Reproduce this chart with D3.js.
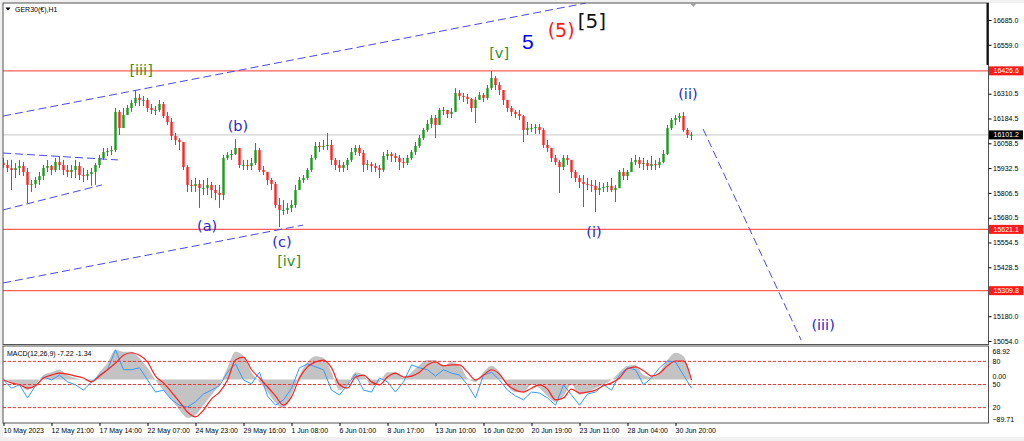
<!DOCTYPE html>
<html>
<head>
<meta charset="utf-8">
<script src="https://cdn.jsdelivr.net/npm/d3@7"></script>
<style>
  body { margin: 0; background: #f0f0f0; }
  svg { display: block; }
  text { font-family: "Liberation Sans", Arial, sans-serif; }
</style>
</head>
<body>
<svg id="chart"></svg>
<script>
// ---- price data (H1 candles, resampled) ----
const firstOpen = 15960;
const closes = [
  15948, 15933, 15923, 15933, 15943, 15913, 15847, 15852, 15872, 15892,
  15933, 15943, 15923, 15963, 15948, 15923, 15913, 15923, 15943, 15897,
  15892, 15902, 15913, 15948, 15984, 16014, 16019, 16024, 16218, 16136,
  16202, 16238, 16263, 16289, 16279, 16279, 16238, 16228, 16228, 16258,
  16197, 16167, 16096, 16075, 16065, 15938, 15847, 15842, 15852, 15831,
  15831, 15847, 15821, 15806, 15796, 15984, 15999, 16004, 16035, 15948,
  15948, 15943, 15958, 16024, 15923, 15913, 15872, 15852, 15745, 15720,
  15720, 15730, 15745, 15821, 15872, 15882, 15923, 15984, 16045, 16040,
  16045, 16050, 15974, 15948, 15933, 15948, 15974, 16014, 16035, 16009,
  15948, 15953, 15943, 15933, 15923, 15994, 16004, 15994, 15984, 15963,
  15958, 15984, 16014, 16045, 16085, 16126, 16157, 16187, 16152, 16228,
  16228, 16207, 16218, 16314, 16299, 16294, 16284, 16238, 16279, 16304,
  16289, 16339, 16390, 16355, 16329, 16279, 16238, 16218, 16207, 16197,
  16126, 16136, 16136, 16141, 16126, 16050, 16035, 15984, 15963, 15938,
  15984, 15974, 15913, 15882, 15862, 15852, 15847, 15842, 15821, 15831,
  15836, 15842, 15821, 15831, 15913, 15892, 15913, 15963, 15974, 15953,
  15958, 15943, 15953, 15948, 15963, 16004, 16136, 16177, 16187, 16197,
  16126, 16101, 16101
];
const highs = [
  15984, 15974, 15974, 15958, 15974, 15963, 15933, 15872, 15887, 15913,
  15948, 15974, 15948, 15984, 15994, 15974, 15948, 15948, 15974, 15963,
  15933, 15923, 15933, 15958, 15999, 16035, 16035, 16045, 16238, 16228,
  16238, 16253, 16279, 16329, 16309, 16299, 16289, 16258, 16248, 16279,
  16268, 16218, 16187, 16111, 16085, 16065, 15948, 15872, 15882, 15872,
  15872, 15882, 15862, 15847, 15847, 15999, 16014, 16024, 16080, 16024,
  15974, 15974, 15984, 16060, 16035, 15943, 15913, 15882, 15862, 15781,
  15770, 15755, 15770, 15847, 15887, 15897, 15933, 15999, 16065, 16065,
  16075, 16111, 16075, 15984, 15974, 15963, 15984, 16035, 16050, 16050,
  16024, 15974, 15963, 15958, 15948, 16014, 16024, 16014, 16009, 15999,
  15984, 15999, 16024, 16065, 16101, 16136, 16177, 16202, 16202, 16238,
  16243, 16228, 16238, 16339, 16329, 16314, 16309, 16289, 16294, 16319,
  16314, 16355, 16426, 16400, 16370, 16319, 16279, 16248, 16228, 16228,
  16202, 16167, 16157, 16157, 16157, 16136, 16075, 16035, 15999, 15974,
  15999, 15999, 15974, 15923, 15897, 15897, 15882, 15872, 15872, 15862,
  15857, 15862, 15882, 15847, 15923, 15933, 15923, 15984, 15999, 15989,
  15984, 15974, 15994, 15974, 15984, 16024, 16152, 16187, 16202, 16212,
  16218, 16136, 16116
];
const lows = [
  15933, 15913, 15821, 15882, 15897, 15892, 15755, 15811, 15831, 15847,
  15872, 15913, 15897, 15913, 15923, 15897, 15887, 15882, 15882, 15872,
  15862, 15872, 15842, 15847, 15933, 15974, 15994, 15999, 16014, 16101,
  16152, 16202, 16218, 16248, 16248, 16248, 16218, 16207, 16202, 16218,
  16187, 16152, 16075, 16050, 16024, 15923, 15811, 15811, 15811, 15730,
  15796, 15796, 15781, 15770, 15730, 15770, 15974, 15974, 15999, 15933,
  15923, 15923, 15923, 15948, 15913, 15897, 15847, 15821, 15730, 15633,
  15694, 15699, 15709, 15730, 15821, 15857, 15872, 15913, 15974, 16014,
  16024, 16024, 15948, 15923, 15913, 15913, 15923, 15963, 15999, 15994,
  15913, 15923, 15913, 15913, 15882, 15913, 15974, 15963, 15963, 15923,
  15933, 15948, 15974, 15999, 16035, 16075, 16116, 16136, 16085, 16167,
  16202, 16187, 16187, 16218, 16279, 16268, 16258, 16218, 16162, 16279,
  16268, 16279, 16329, 16329, 16304, 16253, 16218, 16197, 16187, 16177,
  16065, 16101, 16116, 16106, 16106, 16035, 16014, 15963, 15948, 15806,
  15923, 15948, 15882, 15862, 15831, 15735, 15821, 15811, 15709, 15796,
  15811, 15811, 15811, 15760, 15847, 15872, 15872, 15923, 15948, 15933,
  15923, 15923, 15923, 15923, 15933, 15958, 15999, 16126, 16152, 16167,
  16116, 16085, 16075
];

// ---- MACD window (one value every 2 candles) ----
const macdMain = [
  3, -5, -11, -22, -11, 9, 15, 20, 9, 3,
  -1, -5, 15, 34, 61, 57, 57, 44, 24, -1,
  -22, -42, -63, -79, -73, -53, -32, -11, 24, 57,
  48, 15, -5, -26, -48, -59, -32, 9, 36, 48,
  44, 15, -22, -11, 15, 9, -13, -5, 15, 15,
  3, 15, 30, 40, 40, 28, 36, 30, 3, -5,
  15, 28, 15, -13, -26, -26, -11, -18, -34, -46,
  -34, -11, -32, -26, -18, -11, -1, 15, 28, 30,
  9, 5, 15, 40, 55, 48, -7.22
];
const macdSignal = [
  -1, -7, -11, -18, -13, 3, 9, 13, 11, 7,
  3, -5, 7, 20, 34, 50, 55, 50, 36, 7,
  -7, -26, -46, -67, -77, -63, -40, -26, -1, 40,
  46, 20, 3, -15, -34, -53, -36, 3, 26, 36,
  40, 24, -11, -18, 5, 9, -5, -11, 5, 13,
  5, 7, 15, 30, 36, 28, 30, 30, 15, -1,
  9, 20, 11, -11, -22, -26, -18, -11, -20, -42,
  -38, -20, -28, -26, -22, -13, -7, 3, 22, 26,
  18, 7, 13, 28, 38, 38, -1.34
];
const fastLine = [
  -1, -18, -11, -38, -13, 5, -1, 9, -5, -11,
  -22, -5, 9, 20, 61, 20, 20, 24, -1, -26,
  -22, -42, -53, -57, -46, -30, -22, -13, 15, 32,
  -1, -9, 15, -34, -53, -42, -18, 24, 32, 26,
  20, -22, -32, -11, 11, -22, -26, 3, -5, -26,
  -5, 30, 24, 20, 7, 20, 13, 9, -11, -38,
  9, 15, -1, -22, -34, -42, -26, -28, -38, -53,
  -11, -32, -53, -30, -26, -11, -22, 9, 24, 20,
  -11, 3, 24, 38, 36, 9, -18
];
const macdRange = [-89.71, 68.92];
const levelValues = [80, 50, 20];

// ---- axis labels ----
const priceTicks = [16685.0, 16559.0, 16310.5, 16184.5, 16058.5, 15932.5, 15806.5,
  15680.5, 15554.5, 15428.5, 15180.0, 15054.0];
const dateLabels = ["10 May 2023", "12 May 21:00", "17 May 14:00", "22 May 07:00",
  "24 May 23:00", "29 May 16:00", "1 Jun 08:00", "6 Jun 01:00", "8 Jun 17:00",
  "13 Jun 10:00", "16 Jun 02:00", "20 Jun 19:00", "23 Jun 11:00", "28 Jun 04:00",
  "30 Jun 20:00"];
const barsPerLabel = 12;

// ---- levels and drawings (candle index, price) ----
const resistance = [16426.6, 15621.1, 15309.8];
const lastPrice = 16101.2;
const trendLines = [
  [{ i: -0.1, p: 16197 }, { i: 145.6, p: 16771 }],
  [{ i: -0.1, p: 15349 }, { i: 74.9, p: 15643 }],
  [{ i: -0.1, p: 16009 }, { i: 28.6, p: 15974 }],
  [{ i: -0.1, p: 15720 }, { i: 24.6, p: 15847 }],
  [{ i: 174.9, p: 16131 }, { i: 199.4, p: 15059 }]
];
const waveLabels = [
  { t: "[iii]", i: 34.4, p: 16408, g: "green" },
  { t: "(b)", i: 58.6, p: 16123, g: "blue" },
  { t: "(a)", i: 50.9, p: 15615, g: "blue" },
  { t: "(c)", i: 69.6, p: 15534, g: "blue" },
  { t: "[iv]", i: 71.4, p: 15437, g: "green" },
  { t: "[v]", i: 123.9, p: 16494, g: "green" },
  { t: "5", i: 131.1, p: 16539, g: "five" },
  { t: "(5)", i: 139.4, p: 16599, g: "red" },
  { t: "[5]", i: 147.1, p: 16643, g: "black" },
  { t: "(i)", i: 147.6, p: 15584, g: "blue" },
  { t: "(ii)", i: 171.1, p: 16286, g: "blue" },
  { t: "(iii)", i: 204.9, p: 15112, g: "blue" }
];

// ---- layout ----
const W = 1024, H = 441;
const fr = { left: 3, right: 988.5, top: 3, mainBottom: 344.5, subTop: 346, subBottom: 423 };
const labelStyle = {
  green: { fill: "#2f8f2f", size: 14.5 },
  blue: { fill: "#2626d6", size: 14.5 },
  five: { fill: "#0000ff", size: 21 },
  red: { fill: "#ff1a1a", size: 19 },
  black: { fill: "#111", size: 20 }
};
const bull = "#1f9a1f", bear = "#ff2424";

const svg = d3.select("#chart").attr("width", W).attr("height", H);
svg.append("rect").attr("x", fr.left).attr("y", fr.top)
  .attr("width", W - fr.left).attr("height", 437 - fr.top).attr("fill", "#fff");

const x = d3.scaleLinear().domain([0, closes.length - 1]).range([3.5, 691.5]);
const y = d3.scaleLinear().domain([15054, 16685]).range([341, 20]);
const my = d3.scaleLinear().domain(macdRange).range([fr.subBottom, fr.subTop]);
const ly = d3.scaleLinear().domain([0, 100]).range([fr.subBottom, fr.subTop]);

const defs = svg.append("defs");
defs.append("clipPath").attr("id", "clipMain").append("rect")
  .attr("x", fr.left).attr("y", fr.top)
  .attr("width", fr.right - fr.left).attr("height", fr.mainBottom - fr.top);
defs.append("clipPath").attr("id", "clipSub").append("rect")
  .attr("x", fr.left).attr("y", fr.subTop)
  .attr("width", fr.right - fr.left).attr("height", fr.subBottom - fr.subTop);

// ---- main window ----
const main = svg.append("g").attr("clip-path", "url(#clipMain)");

main.selectAll(".res").data(resistance).join("line")
  .attr("x1", fr.left).attr("x2", fr.right)
  .attr("y1", d => y(d)).attr("y2", d => y(d))
  .attr("stroke", "#ff5c5c").attr("stroke-width", 1.4);

main.append("line")
  .attr("x1", fr.left).attr("x2", fr.right)
  .attr("y1", y(lastPrice)).attr("y2", y(lastPrice))
  .attr("stroke", "#c8c8c8").attr("stroke-width", 1);

const candles = closes.map((c, i) => ({
  i, c, h: highs[i], l: lows[i], o: i ? closes[i - 1] : firstOpen
}));

main.selectAll(".wick").data(candles).join("line")
  .attr("x1", d => x(d.i)).attr("x2", d => x(d.i))
  .attr("y1", d => y(Math.max(d.h, d.o, d.c)))
  .attr("y2", d => y(Math.min(d.l, d.o, d.c)))
  .attr("stroke", d => d.c >= d.o ? bull : bear).attr("stroke-width", 1);

main.selectAll(".body").data(candles).join("rect")
  .attr("x", d => x(d.i) - 1.2).attr("width", 2.4)
  .attr("y", d => y(Math.max(d.o, d.c)))
  .attr("height", d => Math.max(1, Math.abs(y(d.o) - y(d.c))))
  .attr("fill", d => d.c >= d.o ? bull : bear);

const tl = d3.line().x(d => x(d.i)).y(d => y(d.p));
main.selectAll(".trend").data(trendLines).join("path")
  .attr("d", tl).attr("fill", "none")
  .attr("stroke", "#4848f0").attr("stroke-width", 1)
  .attr("stroke-dasharray", "8,4");

main.selectAll(".wave").data(waveLabels).join("text")
  .attr("x", d => x(d.i)).attr("y", d => y(d.p))
  .attr("text-anchor", "middle")
  .style("font-family", d => d.g === "five" ? "'Liberation Sans', Arial, sans-serif" : "'DejaVu Sans', sans-serif")
  .style("font-size", d => labelStyle[d.g].size + "px")
  .attr("fill", d => labelStyle[d.g].fill)
  .text(d => d.t);

// ---- MACD window ----
const sub = svg.append("g").attr("clip-path", "url(#clipSub)");
const mx = (d, k) => x(k * 2);

sub.append("path").datum(macdMain)
  .attr("d", d3.area().x(mx).y0(my(0)).y1(d => my(d)).curve(d3.curveMonotoneX))
  .attr("fill", "#c3c3c3");

sub.selectAll(".lvl").data(levelValues).join("line")
  .attr("x1", fr.left).attr("x2", fr.right)
  .attr("y1", d => ly(d)).attr("y2", d => ly(d))
  .attr("stroke", "#ff3030").attr("stroke-width", 1)
  .attr("stroke-dasharray", "3,2");

sub.append("path").datum(fastLine)
  .attr("d", d3.line().x(mx).y(d => my(d)))
  .attr("fill", "none").attr("stroke", "#3399ff").attr("stroke-width", 1);

sub.append("path").datum(macdSignal)
  .attr("d", d3.line().x(mx).y(d => my(d)).curve(d3.curveMonotoneX))
  .attr("fill", "none").attr("stroke", "#ff2020").attr("stroke-width", 1.2);

svg.append("text").attr("x", 7).attr("y", 355.5)
  .style("font-size", "7px").attr("fill", "#000")
  .text(`MACD(12,26,9) ${macdMain[macdMain.length - 1]} ${macdSignal[macdSignal.length - 1]}`);

// ---- frames ----
svg.append("rect").attr("x", fr.left).attr("y", fr.top)
  .attr("width", fr.right - fr.left).attr("height", fr.mainBottom - fr.top)
  .attr("fill", "none").attr("stroke", "#555").attr("stroke-width", 1);
svg.append("rect").attr("x", fr.left).attr("y", fr.subTop)
  .attr("width", fr.right - fr.left).attr("height", fr.subBottom - fr.subTop)
  .attr("fill", "none").attr("stroke", "#555").attr("stroke-width", 1);
svg.append("rect").attr("x", fr.right - 2).attr("y", fr.top)
  .attr("width", 2).attr("height", 62).attr("fill", "#111");
svg.append("path").attr("d", `M${x(171.6)},${fr.top}h7l-3.5,4z`).attr("fill", "#a0a0a0");

// title
svg.append("path").attr("d", "M5.5,7.5h5l-2.5,3z").attr("fill", "#000");
svg.append("text").attr("x", 15).attr("y", 12).style("font-size", "7px").text("GER30(€),H1");

// ---- price axis ----
const yAxis = d3.axisRight(y).tickValues(priceTicks).tickSize(3).tickPadding(1.5)
  .tickFormat(d3.format(".1f"));
const yAxisG = svg.append("g").attr("transform", `translate(${fr.right},0)`).call(yAxis);
yAxisG.select(".domain").remove();
yAxisG.selectAll("text").style("font-size", "7px").style("font-family", "'Liberation Sans', Arial, sans-serif")
  .attr("fill", "#000");
yAxisG.selectAll("line").attr("stroke", "#000");

const tags = resistance.map(v => ({ v, bg: "#ff1a1a" })).concat([{ v: lastPrice, bg: "#000" }]);
const tagG = svg.selectAll(".tag").data(tags).join("g")
  .attr("transform", d => `translate(${fr.right + 0.5},${y(d.v)})`);
tagG.append("rect").attr("x", 0).attr("y", -4.5).attr("width", 34).attr("height", 9)
  .attr("fill", d => d.bg);
tagG.append("text").attr("x", 4.5).attr("y", 2.5).style("font-size", "7px")
  .attr("fill", "#fff").text(d => d3.format(".1f")(d.v));

// MACD scale labels
const subLabels = [
  { t: d3.format(".2f")(macdRange[1]), y: my(macdRange[1]) + 7.5 },
  { t: d3.format(".2f")(0), y: my(0) },
  { t: d3.format(".2f")(macdRange[0]), y: my(macdRange[0]) - 1.5 }
].concat(levelValues.map(v => ({ t: String(v), y: ly(v) + 2.5 })));
svg.selectAll(".sublab").data(subLabels).join("text")
  .attr("x", fr.right + 4).attr("y", d => d.y)
  .style("font-size", "7px").attr("fill", "#000").text(d => d.t);

// ---- time axis ----
const xAxis = d3.axisBottom(x)
  .tickValues(dateLabels.map((d, k) => k * barsPerLabel))
  .tickSize(3).tickPadding(2)
  .tickFormat((d, k) => dateLabels[k]);
const xAxisG = svg.append("g").attr("transform", `translate(0,${fr.subBottom})`).call(xAxis);
xAxisG.select(".domain").remove();
xAxisG.selectAll("line").attr("stroke", "#000");
xAxisG.selectAll("text").attr("text-anchor", "start").attr("dx", -0.5)
  .style("font-size", "7px").style("font-family", "'Liberation Sans', Arial, sans-serif")
  .attr("fill", "#000");
</script>
</body>
</html>
